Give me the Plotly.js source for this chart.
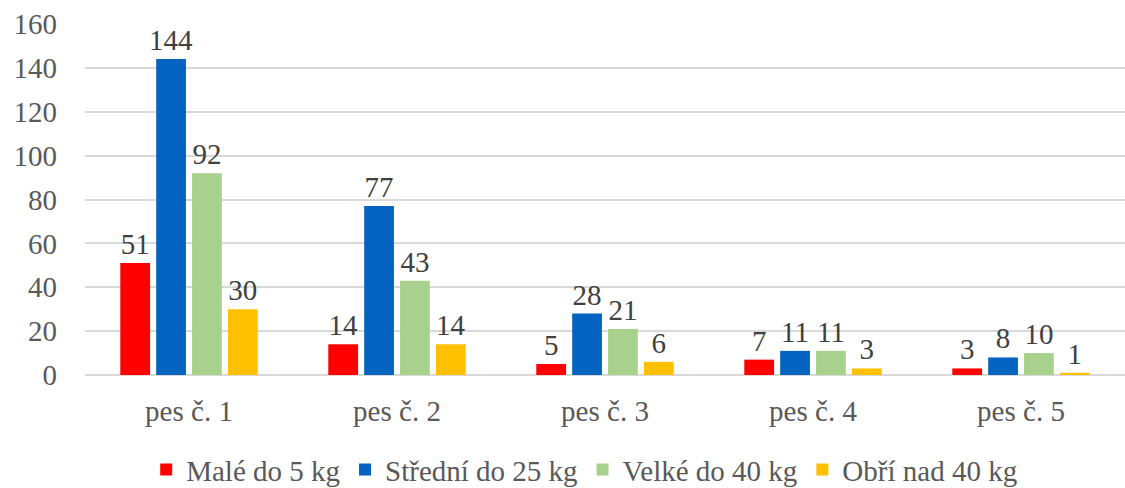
<!DOCTYPE html>
<html>
<head>
<meta charset="utf-8">
<script src="https://cdn.plot.ly/plotly-3.0.1.min.js"></script>
<style>
.main-svg text, .main-svg tspan { font-family: "Liberation Serif", "Times New Roman", serif !important; }
</style>
</head>
<body style="margin:0;background:#fff">
<div id="chart"></div>
<script>
const categories = ["pes č. 1", "pes č. 2", "pes č. 3", "pes č. 4", "pes č. 5"];
const seriesNames = ["Malé do 5 kg", "Střední do 25 kg", "Velké do 40 kg", "Obří nad 40 kg"];
const male = [51, 14, 5, 7, 3];
const stredni = [144, 77, 28, 11, 8];
const velke = [92, 43, 21, 11, 10];
const obri = [30, 14, 6, 3, 1];
const yTicks = [0, 20, 40, 60, 80, 100, 120, 140, 160];

const barColors = ["#FF0000", "#0563C1", "#A9D18E", "#FFC000"];
const allValues = [male, stredni, velke, obri];
const FAM = "Liberation Serif, serif";

const traces = allValues.map((v, i) => ({
  type: "bar",
  name: seriesNames[i],
  x: categories,
  y: v,
  marker: {color: barColors[i]},
  text: v.map(String),
  textposition: "outside",
  constraintext: "none",
  textfont: {family: FAM, size: 29, color: "#404040"},
  cliponaxis: false,
  hoverinfo: "none"
}));

const layout = {
  width: 1125,
  height: 488,
  margin: {l: 85, r: 0, t: 24, b: 113, autoexpand: false},
  paper_bgcolor: "#fff",
  plot_bgcolor: "#fff",
  barmode: "group",
  bargap: 0.31,
  bargroupgap: 0.17,
  font: {family: FAM, color: "#595959", size: 29},
  xaxis: {
    type: "category",
    automargin: false,
    showgrid: false,
    showline: false,
    zeroline: false,
    ticks: "",
    ticklabelstandoff: 16,
    tickfont: {family: FAM, size: 29, color: "#595959"}
  },
  yaxis: {
    range: [0, 160],
    automargin: false,
    tickvals: yTicks,
    ticktext: yTicks.map(String),
    showgrid: true,
    gridcolor: "#D9D9D9",
    gridwidth: 2,
    zeroline: true,
    zerolinecolor: "#D9D9D9",
    zerolinewidth: 2,
    showline: false,
    ticks: "",
    ticklabelstandoff: 27,
    tickfont: {family: FAM, size: 29, color: "#595959"}
  },
  showlegend: true,
  legend: {
    orientation: "h",
    x: 0.48, xanchor: "center",
    y: -0.27, yanchor: "middle",
    font: {family: FAM, size: 29, color: "#595959"},
    itemwidth: 30,
    traceorder: "normal"
  }
};

Plotly.newPlot("chart", traces, layout, {displayModeBar: false, staticPlot: true}).then(() => {
  document.querySelectorAll("#chart text").forEach(t => {
    t.style.setProperty("font-family", "\"Liberation Serif\", \"Times New Roman\", serif", "important");
  });
});
</script>
</body>
</html>
